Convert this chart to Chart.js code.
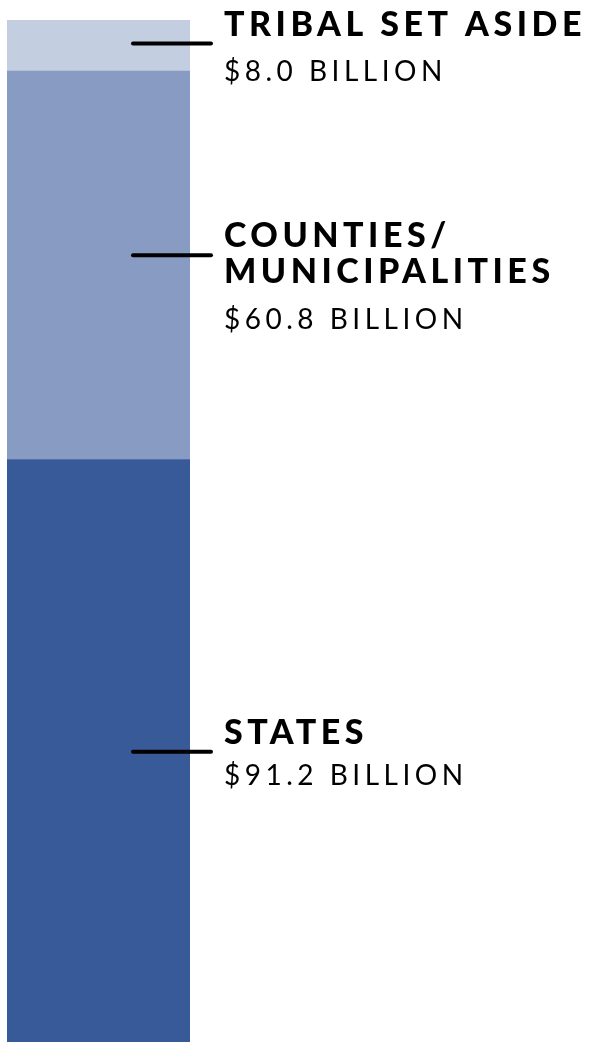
<!DOCTYPE html>
<html>
<head>
<meta charset="utf-8">
<script src="https://cdn.jsdelivr.net/npm/chart.js@4/dist/chart.umd.min.js"></script>
<style>
  html, body { margin: 0; padding: 0; background: #fff; }
  #wrap { position: relative; width: 599px; height: 1042px; }
</style>
</head>
<body>
<div id="wrap"><canvas id="funds-chart"></canvas></div>
<script>
// Stacked funding bar - values in billions
const categories = ['States', 'Counties/Municipalities', 'Tribal Set Aside'];
const titleLines = [['STATES'], ['COUNTIES/', 'MUNICIPALITIES'], ['TRIBAL SET ASIDE']];
const amounts = [91.2, 60.8, 8.0];
const amountLabels = ['$91.2 BILLION', '$60.8 BILLION', '$8.0 BILLION'];
const barColors = ['#395a98', '#889bc3', '#c3cee1'];

// leader line nudges (px) and gap to the amount line, per label
const lineNudge = [1, -10, -2];
const amountGap = [41, 46, 45];

const leaderLabels = {
    id: 'leaderLabels',
    afterDatasetsDraw(chart) {
        const ctx = chart.ctx;
        chart.data.datasets.forEach((ds, i) => {
            const bar = chart.getDatasetMeta(i).data[0];
            if (!bar) return;
            const y = (bar.y + bar.base) / 2 + lineNudge[i];
            ctx.save();
            ctx.strokeStyle = '#000';
            ctx.lineWidth = 4;
            ctx.lineCap = 'round';
            ctx.beginPath();
            ctx.moveTo(133, y);
            ctx.lineTo(211, y);
            ctx.stroke();

            ctx.fillStyle = '#000';
            ctx.textAlign = 'left';
            ctx.textBaseline = 'alphabetic';
            let ty = y - 8;
            ctx.font = '900 34px Lato, "Open Sans", sans-serif';
            ctx.letterSpacing = '4.5px';
            titleLines[i].forEach((t, k) => {
                ctx.fillText(t, 224, ty);
                if (k < titleLines[i].length - 1) ty += 36;
            });
            ctx.font = '28px Lato, "Open Sans", sans-serif';
            ctx.letterSpacing = '4.5px';
            ctx.fillText(amountLabels[i], 224, ty + amountGap[i]);
            ctx.restore();
        });
    }
};

new Chart(document.getElementById('funds-chart'), {
    type: 'bar',
    data: {
        labels: ['Funds'],
        datasets: categories.map((c, i) => ({
            label: c,
            data: [amounts[i]],
            backgroundColor: barColors[i],
            borderWidth: 0,
            barPercentage: 1,
            categoryPercentage: 1
        }))
    },
    options: {
        responsive: true,
        maintainAspectRatio: false,
        animation: false,
        layout: { padding: { top: 20, left: 7, right: 409, bottom: 0 } },
        plugins: { legend: { display: false }, tooltip: { enabled: false } },
        scales: {
            x: { stacked: true, display: false },
            y: { stacked: true, display: false, min: 0, max: 160 }
        }
    },
    plugins: [leaderLabels]
});
</script>
</body>
</html>
